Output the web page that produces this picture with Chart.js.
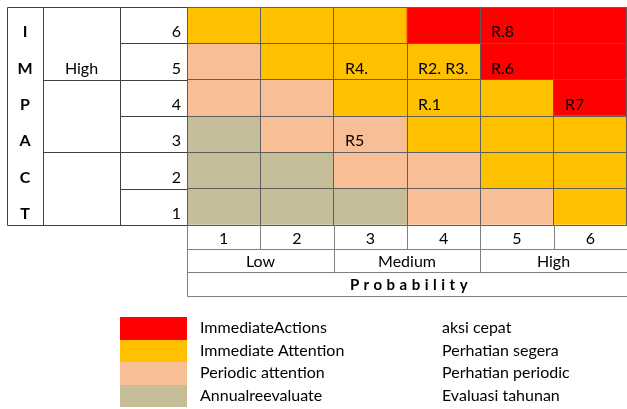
<!DOCTYPE html>
<html>
<head>
<meta charset="utf-8">
<script src="https://cdn.jsdelivr.net/npm/chart.js@4"></script>
<style>
    html, body { margin: 0; padding: 0; background: #fff; }
    #wrap { width: 627px; height: 409px; }
</style>
</head>
<body>
<div id="wrap"><canvas id="myChart" width="627" height="409"></canvas></div>
<script>
'use strict';

/* data */

const probability = ['1', '2', '3', '4', '5', '6'];
const impact = ['1', '2', '3', '4', '5', '6'];
const probabilityGroups = ['Low', 'Medium', 'High'];
const impactGroups = ['', '', 'High'];
const impactLetters = ['I', 'M', 'P', 'A', 'C', 'T'];

// risk level per cell, 0 annual, 1 periodic, 2 attention, 3 actions
const impact1 = [0, 0, 0, 1, 1, 2];
const impact2 = [0, 0, 1, 1, 2, 2];
const impact3 = [0, 1, 1, 2, 2, 2];
const impact4 = [1, 1, 2, 2, 2, 3];
const impact5 = [1, 2, 2, 2, 3, 3];
const impact6 = [2, 2, 2, 3, 3, 3];
const levelsByImpact = [impact1, impact2, impact3, impact4, impact5, impact6];

const levelColors = ['#C4BD97', '#F8BF96', '#FFC000', '#FF0000'];
const levelNamesEn = ['Annualreevaluate', 'Periodic attention', 'Immediate Attention', 'ImmediateActions'];
const levelNamesId = ['Evaluasi tahunan', 'Perhatian periodic', 'Perhatian segera', 'aksi cepat'];

// risks placed in the matrix
const riskProb = [5, 3, 4, 5, 4, 6, 3];
const riskImpact = [6, 5, 5, 5, 4, 4, 3];
const riskText = ['R.8', 'R4.', 'R2. R3.', 'R.6', 'R.1', 'R7', 'R5'];

const FONT = 'Lato, "Open Sans", sans-serif';
const FSIZE = 16;

/* datasets: one stacked row of cells per impact level */

const datasets = levelsByImpact.map(function(levels, i) {
    return {
        label: 'Impact ' + impact[i],
        data: levels.map(function() { return 1; }),
        backgroundColor: levels.map(function(l) { return levelColors[l]; }),
        borderWidth: 0,
        barPercentage: 1,
        categoryPercentage: 1
    };
});

/* tables, risk labels and legend */

const tablePlugin = {
    id: 'riskTable',
    afterDraw: function(chart) {
        const ctx = chart.ctx;
        const x = chart.scales.x;
        const y = chart.scales.y;
        const area = chart.chartArea;
        const step = x.getPixelForTick(1) - x.getPixelForTick(0);
        const colEdge = function(i) { return Math.round(x.getPixelForTick(0) - step / 2 + i * step); };
        const rowEdge = function(v) { return Math.round(y.getPixelForValue(v)); };
        const line = function(x1, y1, x2, y2) {
            ctx.beginPath();
            ctx.moveTo(x1 + 0.5, y1 + 0.5);
            ctx.lineTo(x2 + 0.5, y2 + 0.5);
            ctx.stroke();
        };

        ctx.save();
        ctx.fillStyle = '#000';

        /* risk labels */
        ctx.font = FSIZE + 'px ' + FONT;
        ctx.textAlign = 'left';
        ctx.textBaseline = 'middle';
        for (let k = 0; k < riskText.length; k++) {
            const cx = colEdge(riskProb[k] - 1) + 11;
            const cy = y.getPixelForValue(riskImpact[k] - 0.5) + 7;
            ctx.fillText(riskText[k], cx, cy);
        }

        /* left table */
        const leftX = 7, col2 = 43, col3 = 120;
        ctx.strokeStyle = '#404040';
        ctx.lineWidth = 1;
        line(leftX, rowEdge(6), area.left, rowEdge(6));
        line(leftX, rowEdge(0), area.left, rowEdge(0));
        line(leftX, rowEdge(6), leftX, rowEdge(0));
        line(col2, rowEdge(6), col2, rowEdge(0));
        line(col3, rowEdge(6), col3, rowEdge(0));
        for (let v = 1; v < impact.length; v++) {
            line(col3, rowEdge(v), area.left, rowEdge(v));
            if (v % 2 === 0) line(col2, rowEdge(v), col3, rowEdge(v));
        }

        ctx.font = 'bold ' + FSIZE + 'px ' + FONT;
        ctx.textAlign = 'center';
        impactLetters.forEach(function(letter, i) {
            ctx.fillText(letter, (leftX + col2) / 2, y.getPixelForValue(impact.length - i - 0.5) + 7);
        });
        // group labels sit in the lower row of their two-row cell
        ctx.font = FSIZE + 'px ' + FONT;
        impactGroups.forEach(function(g, i) {
            if (g) ctx.fillText(g, (col2 + col3) / 2, y.getPixelForValue(i * 2 + 0.5) + 7);
        });

        /* bottom table */
        const r1 = rowEdge(0), r2 = 249, r3 = 272, r4 = 296;
        ctx.strokeStyle = '#7f7f7f';
        line(area.left, r1, area.left, r4);
        line(area.left, r2, area.right, r2);
        line(area.left, r3, area.right, r3);
        line(area.left, r4, area.right, r4);
        for (let i = 1; i < probability.length; i++) {
            line(colEdge(i), r1, colEdge(i), i % 2 === 0 ? r3 : r2);
        }
        ctx.fillStyle = '#000';
        ctx.textAlign = 'center';
        probabilityGroups.forEach(function(g, i) {
            ctx.fillText(g, (colEdge(i * 2) + colEdge(i * 2 + 2)) / 2, (r2 + r3) / 2 + 1);
        });
        ctx.font = 'bold 15px ' + FONT;
        ctx.letterSpacing = '4.5px';
        ctx.fillText('Probability', (area.left + area.right) / 2 + 4, (r3 + r4) / 2 + 1);
        ctx.letterSpacing = '0px';

        /* legend */
        const legendTop = 317, rowH = 22.5;
        ctx.font = FSIZE + 'px ' + FONT;
        ctx.textAlign = 'left';
        for (let i = 0; i < levelColors.length; i++) {
            const lvl = levelColors.length - 1 - i;
            const ly = legendTop + i * rowH;
            ctx.fillStyle = levelColors[lvl];
            ctx.fillRect(120, Math.round(ly), 67, Math.round(ly + rowH) - Math.round(ly));
            ctx.fillStyle = '#000';
            ctx.fillText(levelNamesEn[lvl], 200, ly + rowH / 2);
            ctx.fillText(levelNamesId[lvl], 442, ly + rowH / 2);
        }
        ctx.restore();
    }
};

const noPad = function(scale) {
    scale.paddingTop = 0;
    scale.paddingBottom = 0;
    scale.paddingLeft = 0;
    scale.paddingRight = 0;
};

/* chart */

const ctx = document.getElementById('myChart').getContext('2d');

const chart = new Chart(ctx, {
    type: 'bar',
    data: {
        labels: probability,
        datasets: datasets
    },
    plugins: [tablePlugin],
    options: {
        responsive: false,
        animation: false,
        events: [],
        layout: { padding: { top: 7, left: 0, right: 0, bottom: 0 } },
        plugins: { legend: { display: false }, tooltip: { enabled: false } },
        scales: {
            x: {
                stacked: true,
                grid: { offset: true, color: '#5f5f5f', drawTicks: false, z: 1 },
                border: { display: false },
                ticks: { color: '#000', padding: 4, font: { family: FONT, size: FSIZE } },
                afterFit: function(scale) { scale.height = 184; noPad(scale); }
            },
            y: {
                stacked: true,
                position: 'right',
                min: 0,
                max: 6,
                grid: { color: '#5f5f5f', drawTicks: false, z: 1 },
                border: { display: false },
                ticks: { display: false, stepSize: 1 },
                afterFit: function(scale) { scale.width = 0; noPad(scale); }
            },
            yLab: {
                type: 'category',
                position: 'left',
                labels: impact.slice().reverse(),
                offset: true,
                grid: { display: false, drawTicks: false },
                border: { display: false },
                ticks: { color: '#000', padding: 6, labelOffset: 7, font: { family: FONT, size: FSIZE } },
                afterFit: function(scale) { scale.width = 187; noPad(scale); }
            }
        }
    }
});
</script>
</body>
</html>
